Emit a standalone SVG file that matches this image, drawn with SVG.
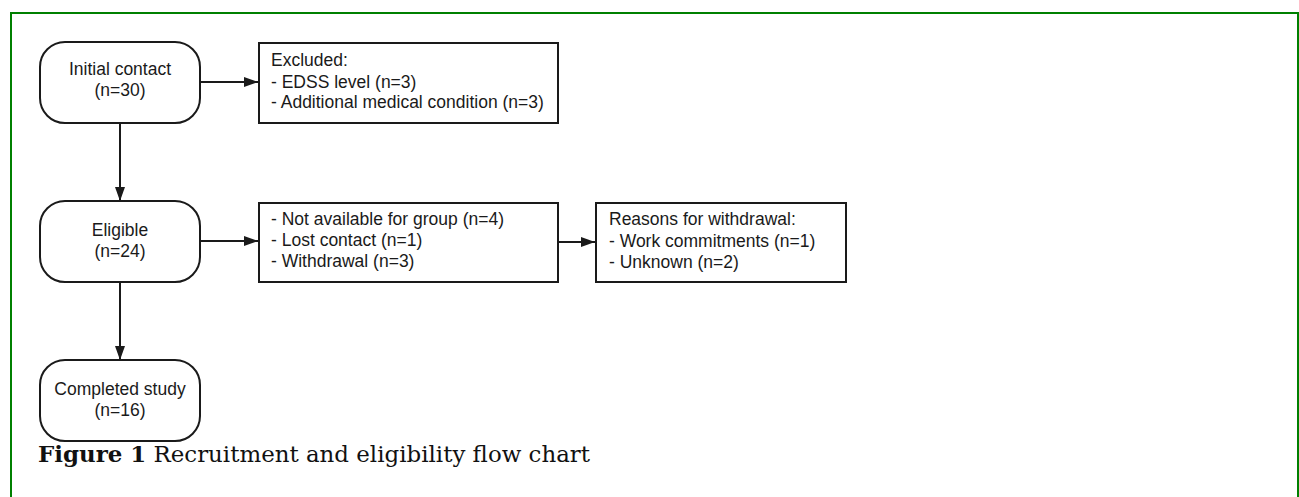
<svg xmlns="http://www.w3.org/2000/svg" width="1299" height="497" viewBox="0 0 1299 497">
<defs>
<style>
.node{fill:#fff;stroke:#1a1a1a;stroke-width:2}
.t{font-family:"Liberation Sans",Arial,sans-serif;font-size:17.5px;fill:#1a1a1a}
.c{text-anchor:middle}
.edge{stroke:#1a1a1a;stroke-width:2;fill:none}
.cap{font-family:"DejaVu Serif","Liberation Serif",serif;font-size:21.5px;fill:#111}
</style>
<marker id="ah" viewBox="0 0 14 10" refX="14" refY="5" markerWidth="14" markerHeight="10" markerUnits="userSpaceOnUse" orient="auto">
<path d="M0,0 L14,5 L0,10 z" fill="#1a1a1a"/>
</marker>
</defs>
<rect x="0" y="0" width="1299" height="497" fill="#fff"/>
<rect x="11" y="13" width="1287" height="500" fill="none" stroke="#008000" stroke-width="2"/>
<g id="connectors">
<line class="edge" x1="200" y1="82" x2="258" y2="82" marker-end="url(#ah)"/>
<line class="edge" x1="120" y1="123" x2="120" y2="201" marker-end="url(#ah)"/>
<line class="edge" x1="200" y1="241" x2="258" y2="241" marker-end="url(#ah)"/>
<line class="edge" x1="558" y1="242" x2="595" y2="242" marker-end="url(#ah)"/>
<line class="edge" x1="120" y1="282" x2="120" y2="360" marker-end="url(#ah)"/>
</g>
<g id="initial">
<rect class="node" x="40" y="42" width="160" height="81" rx="25"/>
<text class="t c" x="120" y="75">Initial contact</text>
<text class="t c" x="120" y="96">(n=30)</text>
</g>
<g id="excluded">
<rect class="node" x="259" y="43" width="299" height="80"/>
<text class="t" x="271" y="66">Excluded:</text>
<text class="t" x="271" y="88">- EDSS level (n=3)</text>
<text class="t" x="271" y="108">- Additional medical condition (n=3)</text>
</g>
<g id="eligible">
<rect class="node" x="40" y="201" width="160" height="81" rx="25"/>
<text class="t c" x="120" y="236">Eligible</text>
<text class="t c" x="120" y="257">(n=24)</text>
</g>
<g id="notincluded">
<rect class="node" x="259" y="203" width="299" height="79"/>
<text class="t" x="271" y="225">- Not available for group (n=4)</text>
<text class="t" x="271" y="246">- Lost contact (n=1)</text>
<text class="t" x="271" y="267">- Withdrawal (n=3)</text>
</g>
<g id="reasons">
<rect class="node" x="596" y="203" width="250" height="79"/>
<text class="t" x="609" y="225">Reasons for withdrawal:</text>
<text class="t" x="609" y="247">- Work commitments (n=1)</text>
<text class="t" x="609" y="268">- Unknown (n=2)</text>
</g>
<g id="completed">
<rect class="node" x="40" y="360" width="160" height="81" rx="25"/>
<text class="t c" x="120" y="395">Completed study</text>
<text class="t c" x="120" y="416">(n=16)</text>
</g>
<text class="cap" x="38" y="462" textLength="552" lengthAdjust="spacingAndGlyphs"><tspan font-weight="bold">Figure 1</tspan> Recruitment and eligibility flow chart</text>
</svg>
